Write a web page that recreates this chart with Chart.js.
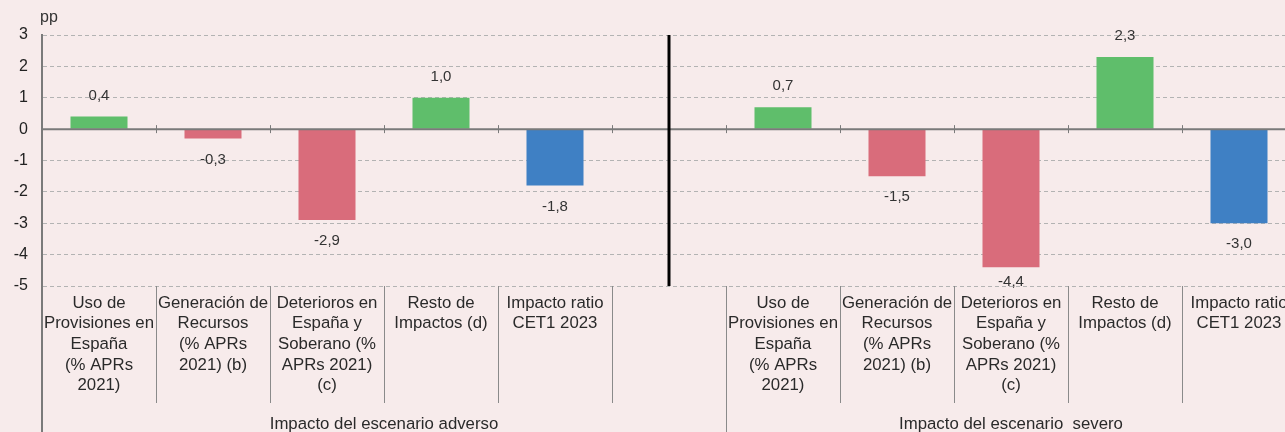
<!DOCTYPE html>
<html>
<head>
<meta charset="utf-8">
<script src="https://cdn.jsdelivr.net/npm/chart.js@4"></script>
<style>
  html, body { margin: 0; padding: 0; background: #f7ebeb; overflow: hidden; }
  #wrap { width: 1296px; height: 432px; position: relative; }
</style>
</head>
<body>
<div id="wrap"><canvas id="impactChart"></canvas></div>
<script>
// data
const categories = [
    ['Uso de', 'Provisiones en', 'España', '(% APRs', '2021)'],
    ['Generación de', 'Recursos', '(% APRs', '2021) (b)'],
    ['Deterioros en', 'España y', 'Soberano (%', 'APRs 2021)', '(c)'],
    ['Resto de', 'Impactos (d)'],
    ['Impacto ratio', 'CET1 2023'],
    [''],
    ['Uso de', 'Provisiones en', 'España', '(% APRs', '2021)'],
    ['Generación de', 'Recursos', '(% APRs', '2021) (b)'],
    ['Deterioros en', 'España y', 'Soberano (%', 'APRs 2021)', '(c)'],
    ['Resto de', 'Impactos (d)'],
    ['Impacto ratio', 'CET1 2023']
];
const impactValues = [0.4, -0.3, -2.9, 1.0, -1.8, null, 0.7, -1.5, -4.4, 2.3, -3.0];
const barColors = ['#5fbe6b', '#d96c7b', '#d96c7b', '#5fbe6b', '#3f80c4', '#fff',
                   '#5fbe6b', '#d96c7b', '#d96c7b', '#5fbe6b', '#3f80c4'];
const groups = [
    { label: 'Impacto del escenario adverso', from: 0, to: 5 },
    { label: 'Impacto del escenario  severo', from: 6, to: 10 }
];
const yTicks = [3, 2, 1, 0, -1, -2, -3, -4, -5];
const unitLabel = 'pp';

const FONT = '"Liberation Sans", Arial, Helvetica, sans-serif';

// extra drawing: zero line, separators, labels

const decorPlugin = {
    id: 'decor',
    afterDatasetsDraw(chart) {
        const ctx = chart.ctx;
        const area = chart.chartArea;
        const x = chart.scales.x;
        const y = chart.scales.y;
        const step = x.getPixelForValue(1) - x.getPixelForValue(0);
        const y0 = y.getPixelForValue(0);
        ctx.save();

        // zero line + small ticks
        ctx.strokeStyle = '#7a7a7a';
        ctx.lineWidth = 2;
        ctx.beginPath();
        ctx.moveTo(area.left, y0);
        ctx.lineTo(area.right, y0);
        ctx.stroke();
        ctx.lineWidth = 1;
        for (let i = 1; i < categories.length; i++) {
            const bx = Math.round(x.getPixelForValue(i) - step / 2) + 0.5;
            ctx.beginPath();
            ctx.moveTo(bx, y0 - 4);
            ctx.lineTo(bx, y0 + 4);
            ctx.stroke();
        }

        // black separator between scenarios
        const sx = x.getPixelForValue(5);
        ctx.strokeStyle = '#000';
        ctx.lineWidth = 3;
        ctx.beginPath();
        ctx.moveTo(sx, area.top);
        ctx.lineTo(sx, area.bottom);
        ctx.stroke();

        // category separators below the axis
        ctx.strokeStyle = '#8a8a8a';
        ctx.lineWidth = 1;
        for (let i = 1; i < categories.length; i++) {
            const bx = Math.round(x.getPixelForValue(i) - step / 2) + 0.5;
            const end = (i === 6) ? chart.height : area.bottom + 117;
            ctx.beginPath();
            ctx.moveTo(bx, area.bottom);
            ctx.lineTo(bx, end);
            ctx.stroke();
        }
        ctx.strokeStyle = '#7a7a7a';
        ctx.lineWidth = 2;
        ctx.beginPath();
        ctx.moveTo(area.left, area.bottom);
        ctx.lineTo(area.left, chart.height);
        ctx.stroke();

        // category labels
        ctx.fillStyle = '#2a2a2a';
        ctx.font = '16.8px ' + FONT;
        ctx.textAlign = 'center';
        ctx.textBaseline = 'middle';
        categories.forEach((lines, i) => {
            const cx = x.getPixelForValue(i);
            lines.forEach((t, k) => ctx.fillText(t, cx, area.bottom + 17 + k * 20.7));
        });

        // group labels
        groups.forEach(g => {
            const gx = (x.getPixelForValue(g.from) + x.getPixelForValue(g.to)) / 2;
            ctx.fillText(g.label, gx, area.bottom + 138);
        });

        // value labels
        ctx.font = '15px ' + FONT;
        ctx.fillStyle = '#333';
        impactValues.forEach((v, i) => {
            if (v === null) return;
            const px = x.getPixelForValue(i);
            const py = y.getPixelForValue(v);
            const txt = v.toFixed(1).replace('.', ',');
            const ly = v >= 0 ? py - 21 : Math.min(py + 21, area.bottom - 4);
            ctx.fillText(txt, px, ly);
        });

        // unit label
        ctx.font = '16px ' + FONT;
        ctx.fillStyle = '#333';
        ctx.textAlign = 'left';
        ctx.fillText(unitLabel, area.left - 2, area.top - 17);
        ctx.restore();
    }
};

const chart = new Chart(document.getElementById('impactChart'), {
    type: 'bar',
    data: {
        labels: categories,
        datasets: [{
            data: impactValues,
            backgroundColor: barColors,
            borderWidth: 0,
            barPercentage: 0.5,
            categoryPercentage: 1
        }]
    },
    options: {
        responsive: true,
        maintainAspectRatio: false,
        animation: false,
        layout: { padding: { top: 35, right: 0, left: 0, bottom: 0 } },
        plugins: {
            legend: { display: false },
            tooltip: { enabled: false }
        },
        scales: {
            x: {
                afterFit: (s) => { s.height = 146; },
                ticks: { display: false },
                grid: { display: false },
                border: { display: false }
            },
            y: {
                min: -5,
                max: 3,
                afterFit: (s) => { s.width = 42; },
                afterBuildTicks: (s) => { s.ticks = yTicks.map(v => ({ value: v })); },
                ticks: {
                    padding: 14,
                    color: '#222',
                    font: { family: FONT, size: 16 },
                    callback: (v) => String(v)
                },
                grid: {
                    color: '#b3b3b3',
                    lineWidth: 1,
                    drawTicks: false
                },
                border: {
                    display: true,
                    color: '#7a7a7a',
                    width: 2,
                    dash: [4, 3]
                }
            }
        }
    },
    plugins: [decorPlugin]
});
</script>
</body>
</html>
